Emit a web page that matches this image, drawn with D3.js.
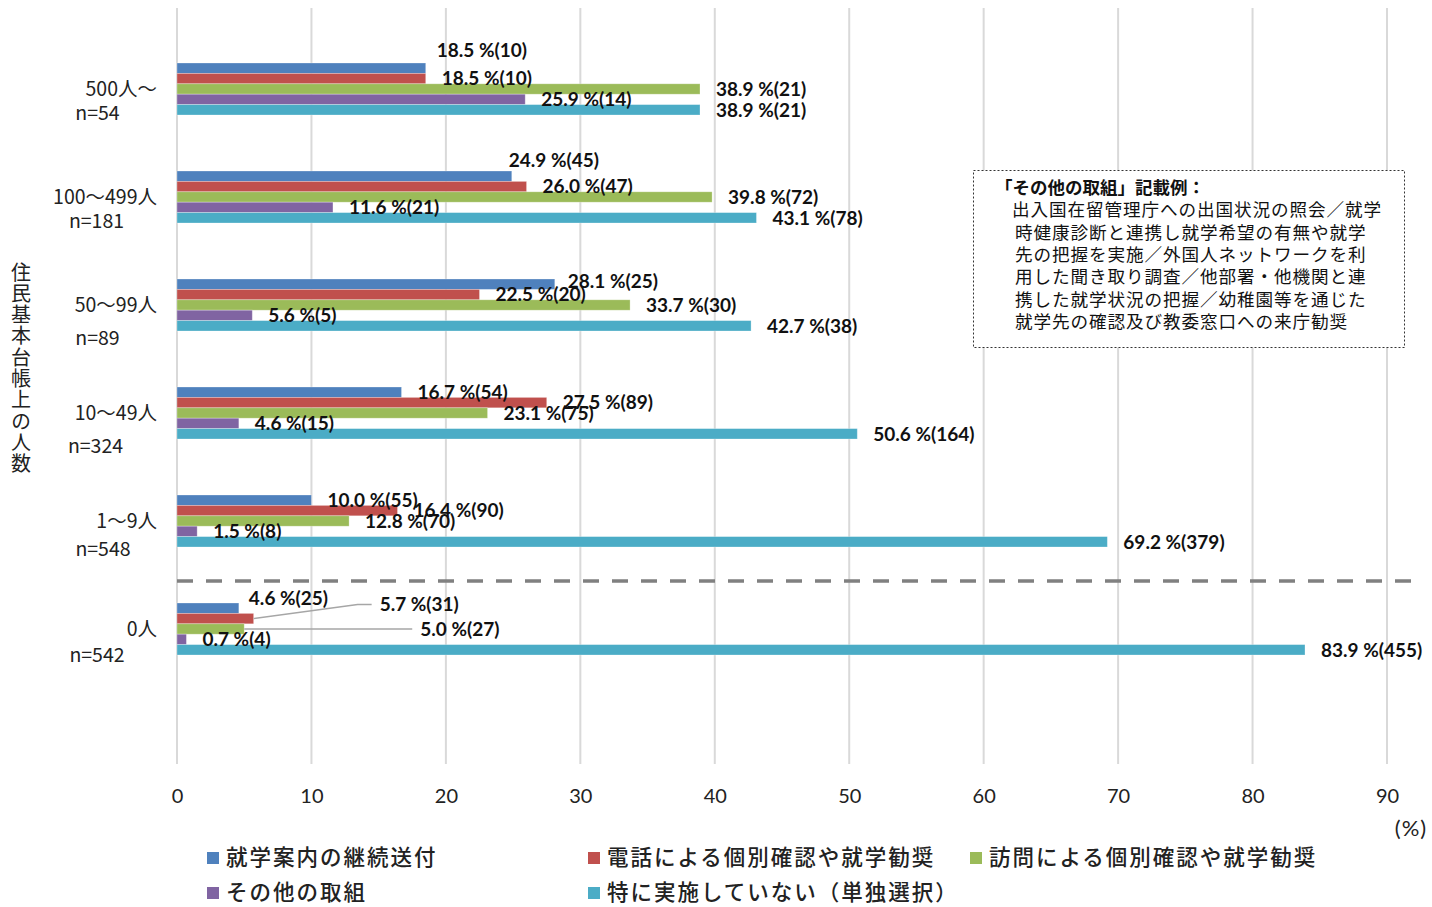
<!DOCTYPE html>
<html>
<head>
<meta charset="utf-8">
<script src="https://cdn.jsdelivr.net/npm/d3@7"></script>
<style>
  html, body { margin: 0; padding: 0; background: #fff; }
  svg { display: block; }
</style>
</head>
<body>
<svg id="chart" width="1432" height="907"></svg>
<script>
// Groups by number of registered residents (住民基本台帳上の人数)
const groups = ["500人〜", "100〜499人", "50〜99人", "10〜49人", "1〜9人", "0人"];
const groupN = ["n=54", "n=181", "n=89", "n=324", "n=548", "n=542"];

const seriesNames = [
  "就学案内の継続送付",
  "電話による個別確認や就学勧奨",
  "訪問による個別確認や就学勧奨",
  "その他の取組",
  "特に実施していない（単独選択）"
];

// Percentages per series, one entry per group (top to bottom)
const sendGuide   = [18.5, 24.9, 28.1, 16.7, 10.0, 4.6];
const phoneCheck  = [18.5, 26.0, 22.5, 27.5, 16.4, 5.7];
const visitCheck  = [38.9, 39.8, 33.7, 23.1, 12.8, 5.0];
const otherAction = [25.9, 11.6,  5.6,  4.6,  1.5, 0.7];
const noneAtAll   = [38.9, 43.1, 42.7, 50.6, 69.2, 83.9];

// Response counts per series, one entry per group
const sendGuideN   = [10, 45, 25, 54, 55, 25];
const phoneCheckN  = [10, 47, 20, 89, 90, 31];
const visitCheckN  = [21, 72, 30, 75, 70, 27];
const otherActionN = [14, 21,  5, 15,  8,  4];
const noneAtAllN   = [21, 78, 38, 164, 379, 455];

const xTicks = [0, 10, 20, 30, 40, 50, 60, 70, 80, 90];

const noteTitle = "「その他の取組」記載例：";
const noteLines = [
  "出入国在留管理庁への出国状況の照会／就学",
  "時健康診断と連携し就学希望の有無や就学",
  "先の把握を実施／外国人ネットワークを利",
  "用した聞き取り調査／他部署・他機関と連",
  "携した就学状況の把握／幼稚園等を通じた",
  "就学先の確認及び教委窓口への来庁勧奨"
];

const colors = ["#4F81BD", "#C0504D", "#9BBB59", "#8064A2", "#4BACC6"];

const valueSets = [sendGuide, phoneCheck, visitCheck, otherAction, noneAtAll];
const countSets = [sendGuideN, phoneCheckN, visitCheckN, otherActionN, noneAtAllN];

// Label nudges for crowded bars: [groupIndex, seriesIndex, dx, dy, leader]
const labelNudges = [
  [0, 0, -5, -18, false],
  [1, 0, -19, -16, false],
  [2, 0, -3, -3, false],
  [5, 0, -6, -10, false],
  [5, 1, 110, -14, true],
  [5, 2, 160, 0, true]
];

// Placement of the second ("n=") line of each category label
const nLineDy = [24, 24, 33, 33, 28, 26];
const nLineX  = [97.5, 96.5, 97.5, 95.5, 103, 97];

const svg = d3.select("#chart");
const latin = "Lato, 'Open Sans', 'Noto Sans', sans-serif";
const cjk = "'Noto Sans CJK JP', 'Noto Sans', sans-serif";

const plotTop = 8, plotBottom = 764;
const x = d3.scaleLinear().domain([0, 90]).range([177, 1387]);

const y = d3.scaleBand()
  .domain(groups)
  .range([35, 683])
  .paddingInner(56 / 108)
  .paddingOuter(28 / 108);

const ySeries = d3.scaleBand()
  .domain(d3.range(seriesNames.length))
  .range([0, y.bandwidth()])
  .padding(0);

// Vertical gridlines
svg.append("g")
  .selectAll("line")
  .data(xTicks)
  .join("line")
  .attr("x1", d => x(d)).attr("x2", d => x(d))
  .attr("y1", plotTop).attr("y2", plotBottom)
  .attr("stroke", "#D9D9D9")
  .attr("stroke-width", 2);

// X tick labels
const xAxis = d3.axisBottom(x).tickValues(xTicks).tickSize(0).tickPadding(0);
const gx = svg.append("g")
  .attr("transform", "translate(0,789)")
  .call(xAxis);
gx.select(".domain").remove();
gx.selectAll("text")
  .attr("font-family", latin)
  .attr("font-size", 20)
  .attr("fill", "#222")
  .attr("dy", "0.7em");

svg.append("text")
  .attr("x", 1411).attr("y", 836)
  .attr("text-anchor", "middle")
  .attr("font-family", latin)
  .attr("font-size", 22)
  .attr("letter-spacing", 1)
  .attr("fill", "#222")
  .text("(%)");

// Bars
const rows = [];
groups.forEach((g, gi) => {
  valueSets.forEach((vals, si) => {
    rows.push({ group: g, gi, si, value: vals[gi], count: countSets[si][gi] });
  });
});

svg.append("g")
  .selectAll("rect")
  .data(rows)
  .join("rect")
  .attr("x", x(0))
  .attr("y", d => y(d.group) + ySeries(d.si))
  .attr("width", d => x(d.value) - x(0))
  .attr("height", ySeries.bandwidth())
  .attr("fill", d => colors[d.si])
  .attr("stroke", "#fff")
  .attr("stroke-opacity", 0.35)
  .attr("stroke-width", 0.8);

// Separator between populated groups and the zero group
svg.append("line")
  .attr("x1", 177).attr("x2", 1421)
  .attr("y1", 581).attr("y2", 581)
  .attr("stroke", "#808080")
  .attr("stroke-width", 3.5)
  .attr("stroke-dasharray", "16,13");

// Value labels
const nudgeOf = (gi, si) => labelNudges.find(n => n[0] === gi && n[1] === si);
const labelG = svg.append("g");
rows.forEach(d => {
  const bx = x(d.value);
  const by = y(d.group) + ySeries(d.si) + ySeries.bandwidth() / 2;
  const n = nudgeOf(d.gi, d.si);
  const dx = n ? n[2] : 0, dy = n ? n[3] : 0;
  const lx = bx + 16 + dx, ly = by + dy;
  if (n && n[4]) {
    // leader line from bar end to the shifted label
    const pts = dy !== 0
      ? [[bx, by], [lx - 22, ly], [lx - 8, ly]]
      : [[bx, by], [lx - 8, ly]];
    labelG.append("path")
      .attr("d", d3.line()(pts))
      .attr("fill", "none")
      .attr("stroke", "#A6A6A6")
      .attr("stroke-width", 1.5);
  }
  labelG.append("text")
    .attr("x", lx).attr("y", ly)
    .attr("dy", "0.36em")
    .attr("font-family", latin)
    .attr("font-weight", 700)
    .attr("font-size", 19)
    .attr("fill", "#111")
    .text(`${d.value.toFixed(1)} %(${d.count})`);
});

// Category labels (two lines)
const catG = svg.append("g")
  .attr("font-family", cjk)
  .attr("font-size", 19.5)
  .attr("fill", "#222");
groups.forEach((g, gi) => {
  const cy = y(g) + y.bandwidth() / 2;
  catG.append("text")
    .attr("x", 157).attr("y", cy)
    .attr("text-anchor", "end")
    .attr("dy", "0.35em")
    .text(g);
  catG.append("text")
    .attr("x", nLineX[gi]).attr("y", cy + nLineDy[gi])
    .attr("text-anchor", "middle")
    .attr("dy", "0.35em")
    .text(groupN[gi]);
});

// Vertical axis title
svg.append("text")
  .attr("x", 21).attr("y", 262)
  .attr("font-family", cjk)
  .attr("font-size", 20)
  .attr("letter-spacing", 1.3)
  .attr("fill", "#222")
  .style("writing-mode", "vertical-rl")
  .style("text-orientation", "upright")
  .text("住民基本台帳上の人数");

// Note box
const noteG = svg.append("g");
noteG.append("rect")
  .attr("x", 973.5).attr("y", 170.5)
  .attr("width", 431).attr("height", 177)
  .attr("fill", "#fff")
  .attr("stroke", "#333")
  .attr("stroke-width", 1)
  .attr("stroke-dasharray", "2,2");
noteG.append("text")
  .attr("x", 995).attr("y", 188)
  .attr("dy", "0.35em")
  .attr("font-family", cjk)
  .attr("font-weight", 700)
  .attr("font-size", 17.5)
  .attr("fill", "#111")
  .text(noteTitle);
noteLines.forEach((t, i) => {
  noteG.append("text")
    .attr("x", i === 0 ? 1012 : 1015).attr("y", 210 + i * 22.4)
    .attr("dy", "0.35em")
    .attr("font-family", cjk)
    .attr("font-size", 17.6)
    .attr("letter-spacing", 0.9)
    .attr("fill", "#111")
    .text(t);
});

// Legend
const legendPos = [[207, 858], [588, 858], [970, 858], [207, 893], [588, 893]];
const legendG = svg.append("g");
seriesNames.forEach((name, i) => {
  const [lx, ly] = legendPos[i];
  legendG.append("rect")
    .attr("x", lx).attr("y", ly - 6)
    .attr("width", 12).attr("height", 12)
    .attr("fill", colors[i]);
  legendG.append("text")
    .attr("x", lx + 19).attr("y", ly)
    .attr("dy", "0.33em")
    .attr("font-family", cjk)
    .attr("font-size", 21.5)
    .attr("letter-spacing", 2)
    .attr("font-weight", 500)
    .attr("fill", "#222")
    .text(name);
});
</script>
</body>
</html>
